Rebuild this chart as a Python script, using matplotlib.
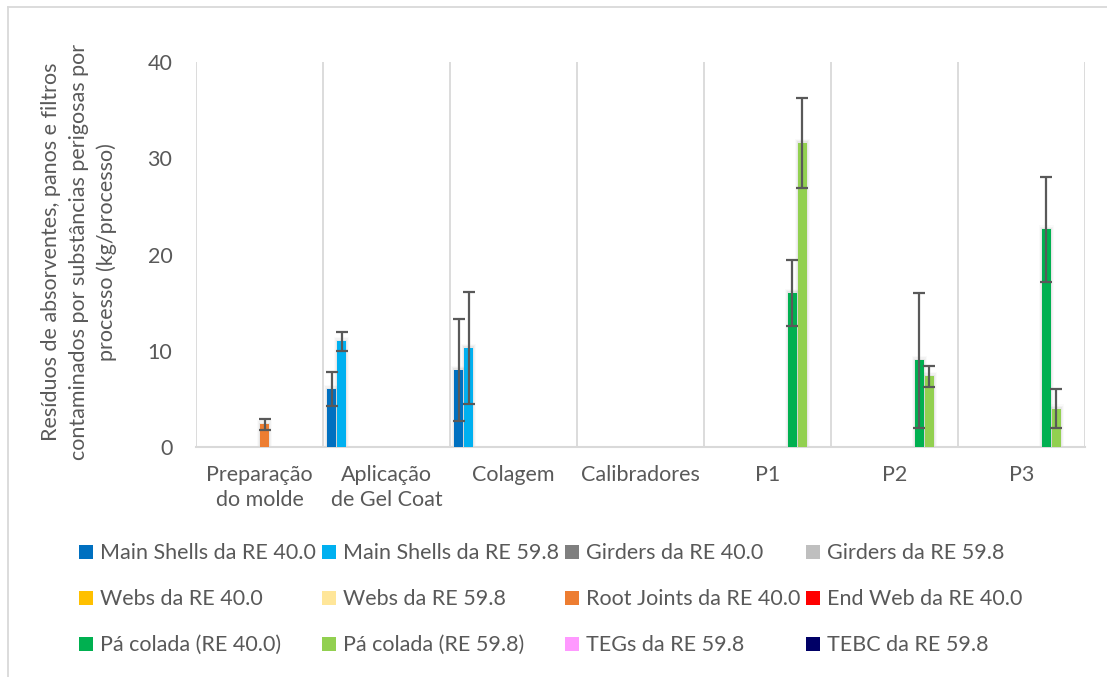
import matplotlib.pyplot as plt
from matplotlib.lines import Line2D
import numpy as np

plt.rcParams['font.family'] = ['Lato', 'DejaVu Sans']

# Processes on the x axis
categories = ['Preparação\ndo molde', 'Aplicação\nde Gel Coat', 'Colagem',
              'Calibradores', 'P1', 'P2', 'P3']

# Mean waste per process (kg/processo) and the error half-widths
main_shells_40 = [0, 6.0, 8.0, 0, 0, 0, 0]
main_shells_40_err = [0, 1.75, 5.3, 0, 0, 0, 0]
main_shells_59 = [0, 11.0, 10.3, 0, 0, 0, 0]
main_shells_59_err = [0, 1.0, 5.85, 0, 0, 0, 0]
girders_40 = [0, 0, 0, 0, 0, 0, 0]
girders_59 = [0, 0, 0, 0, 0, 0, 0]
webs_40 = [0, 0, 0, 0, 0, 0, 0]
webs_59 = [0, 0, 0, 0, 0, 0, 0]
root_joints_40 = [2.35, 0, 0, 0, 0, 0, 0]
root_joints_40_err = [0.55, 0, 0, 0, 0, 0, 0]
end_web_40 = [0, 0, 0, 0, 0, 0, 0]
pa_colada_40 = [0, 0, 0, 0, 16.0, 9.0, 22.6]
pa_colada_40_err = [0, 0, 0, 0, 3.45, 7.0, 5.45]
pa_colada_59 = [0, 0, 0, 0, 31.6, 7.35, 4.0]
pa_colada_59_err = [0, 0, 0, 0, 4.7, 1.1, 2.0]
tegs_59 = [0, 0, 0, 0, 0, 0, 0]
tebc_59 = [0, 0, 0, 0, 0, 0, 0]

zeros = [0] * 7
series = [
    ('Main Shells da RE 40.0', main_shells_40, main_shells_40_err, '#0070C0'),
    ('Main Shells da RE 59.8', main_shells_59, main_shells_59_err, '#00B0F0'),
    ('Girders da RE 40.0', girders_40, zeros, '#7F7F7F'),
    ('Girders da RE 59.8', girders_59, zeros, '#BFBFBF'),
    ('Webs da RE 40.0', webs_40, zeros, '#FFC000'),
    ('Webs da RE 59.8', webs_59, zeros, '#FFE699'),
    ('Root Joints da RE 40.0', root_joints_40, root_joints_40_err, '#ED7D31'),
    ('End Web da RE 40.0', end_web_40, zeros, '#FF0000'),
    ('Pá colada (RE 40.0)', pa_colada_40, pa_colada_40_err, '#00B050'),
    ('Pá colada (RE 59.8)', pa_colada_59, pa_colada_59_err, '#92D050'),
    ('TEGs da RE 59.8', tegs_59, zeros, '#FF99FF'),
    ('TEBC da RE 59.8', tebc_59, zeros, '#000066'),
]

text_color = '#595959'
fs = 15.5
fig = plt.figure(figsize=(11.07, 6.77), dpi=100)
ax = fig.add_axes([0.1771, 0.3397, 0.8030, 0.5687])

x = np.arange(len(categories))
pitch = 10 / 127
width = 0.068
handles = []
for k, (label, vals, errs, color) in enumerate(series):
    pos = x - 0.5 + 3.5 / 127 + pitch * (k + 0.5)
    vals = np.array(vals, dtype=float)
    errs = np.array(errs, dtype=float)
    # soft grey shadow behind each bar
    for grow, alpha in [(0.05, 0.04), (0.034, 0.06), (0.018, 0.09)]:
        shadow = np.where(vals > 0, vals + grow * 9, 0)
        ax.bar(pos, shadow, width=width + grow, color='#808080',
               alpha=alpha, linewidth=0, zorder=2)
    ax.bar(pos, vals, width=width, color=color, linewidth=0, zorder=3)
    m = errs > 0
    if m.any():
        ax.errorbar(pos[m], vals[m], yerr=errs[m], fmt='none',
                    ecolor='#595959', elinewidth=1.6, capsize=4.5,
                    capthick=1.6, zorder=4)
    handles.append(Line2D([], [], marker='s', linestyle='none',
                          markersize=10, markerfacecolor=color,
                          markeredgewidth=0, label=label))

ax.set_xlim(-0.5, 6.5)
ax.set_ylim(0, 40)
ax.set_yticks([0, 10, 20, 30, 40])
ax.set_xticks(x)
ax.set_xticklabels(categories)
ax.set_xticks(np.arange(-0.5, 7, 1), minor=True)
ax.grid(True, which='minor', axis='x', color='#D9D9D9', linewidth=1.3)
ax.tick_params(which='both', length=0)
ax.tick_params(axis='y', labelsize=fs, colors=text_color, pad=17)
ax.tick_params(axis='x', labelsize=fs, colors=text_color, pad=13)
for lab in ax.get_xticklabels():
    lab.set_linespacing(1.3)
    lab.set_verticalalignment('top')
for s in ['top', 'right', 'left']:
    ax.spines[s].set_visible(False)
ax.spines['bottom'].set_color('#D9D9D9')
ax.spines['bottom'].set_linewidth(1.5)

fig.text(0.0714, 0.628,
         'Resíduos de absorventes, panos e filtros\n'
         'contaminados por substâncias perigosas por\n'
         'processo (kg/processo)',
         rotation=90, ha='center', va='center', fontsize=fs,
         color=text_color, linespacing=1.45)

# legend is filled row by row, matplotlib fills columns, so reorder
order = [0, 4, 8, 1, 5, 9, 2, 6, 10, 3, 7, 11]
leg = fig.legend([handles[i] for i in order],
                 [handles[i].get_label() for i in order],
                 loc='upper left', bbox_to_anchor=(0.064, 0.21),
                 ncol=4, frameon=False, fontsize=fs,
                 handlelength=0.6, handletextpad=0.35,
                 columnspacing=0.3, labelspacing=1.2,
                 borderaxespad=0)
for t in leg.get_texts():
    t.set_color(text_color)

# chart border
fig.add_artist(Line2D([0.0075, 0.0075], [0.0, 0.99], color='#D9D9D9',
                      linewidth=1.3, transform=fig.transFigure))
fig.add_artist(Line2D([0.0075, 1.0], [0.99, 0.99], color='#D9D9D9',
                      linewidth=1.3, transform=fig.transFigure))

fig.savefig('out.png', dpi=100)
